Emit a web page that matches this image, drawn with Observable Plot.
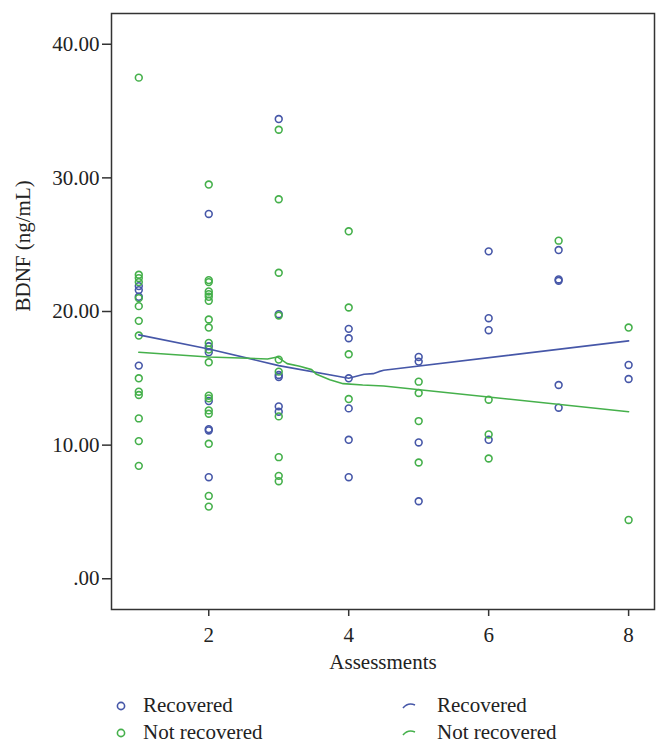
<!DOCTYPE html>
<html>
<head>
<meta charset="utf-8">
<script src="https://cdn.jsdelivr.net/npm/d3@7"></script>
<script src="https://cdn.jsdelivr.net/npm/@observablehq/plot@0.6"></script>
<style>
  html, body { margin: 0; padding: 0; background: #fff; }
  #wrap { position: relative; width: 669px; height: 754px; font-family: "Liberation Serif", "DejaVu Serif", serif; color: #222; }
  #legend { position: absolute; left: 0; top: 680px; width: 669px; height: 74px; font-size: 21px; }
  .item { position: absolute; display: flex; align-items: center; height: 24px; }
  .item svg { position: absolute; }
</style>
</head>
<body>
<div id="wrap">
  <div id="chart"></div>
  <div id="legend"></div>
</div>
<script>
// ---- data ----
const assessments = [1, 2, 3, 4, 5, 6, 7, 8];
const recoveredValues = [
  [21.9, 21.6, 21.1, 15.95],
  [27.3, 17.4, 16.95, 13.3, 11.2, 11.1, 7.6],
  [34.4, 19.8, 15.25, 15.1, 12.9, 12.5],
  [18.7, 18.0, 15.0, 12.75, 10.4, 7.6],
  [16.6, 16.25, 10.2, 5.8],
  [24.5, 19.5, 18.6, 10.4],
  [24.6, 22.4, 22.3, 14.5, 12.8],
  [16.0, 14.95]
];
const notRecoveredValues = [
  [37.5, 22.75, 22.5, 22.2, 21.0, 20.4, 19.3, 18.2, 15.0, 14.0, 13.75, 12.0, 10.3, 8.45],
  [29.5, 22.35, 22.2, 21.5, 21.3, 21.1, 20.8, 19.4, 18.8, 17.65, 17.15, 16.2, 13.7, 13.5, 12.6, 12.35, 10.1, 6.2, 5.4],
  [33.6, 28.4, 22.9, 19.7, 16.4, 15.5, 12.15, 9.1, 7.7, 7.3],
  [26.0, 20.3, 16.8, 13.45],
  [14.75, 13.9, 11.8, 8.7],
  [13.4, 10.8, 9.0],
  [25.3],
  [18.8, 4.4]
];
const recoveredFitX = [1, 2, 3, 4, 4.22, 4.35, 4.43, 4.5, 8];
const recoveredFitY = [18.25, 17.2, 15.95, 15.0, 15.3, 15.35, 15.5, 15.6, 17.8];
const notRecoveredFitX = [1, 2, 2.84, 2.98, 3.12, 3.3, 3.47, 3.54, 3.73, 3.92, 4.2, 4.5, 8];
const notRecoveredFitY = [16.95, 16.6, 16.45, 16.6, 16.1, 15.9, 15.65, 15.3, 14.9, 14.6, 14.5, 14.43, 12.5];

const groups = ["Recovered", "Not recovered"];
const groupColors = ["#4657a8", "#45b04b"];
const xTicks = [2, 4, 6, 8];
const yTicks = [0, 10, 20, 30, 40];
const yTickLabels = [".00", "10.00", "20.00", "30.00", "40.00"];
const xTitle = "Assessments";
const yTitle = "BDNF (ng/mL)";

// ---- build tables ----
const points = [];
assessments.forEach((a, i) => {
  recoveredValues[i].forEach(v => points.push({assessment: a, bdnf: v, group: groups[0]}));
  notRecoveredValues[i].forEach(v => points.push({assessment: a, bdnf: v, group: groups[1]}));
});
const recFit = recoveredFitX.map((x, i) => ({assessment: x, bdnf: recoveredFitY[i]}));
const notFit = notRecoveredFitX.map((x, i) => ({assessment: x, bdnf: notRecoveredFitY[i]}));
const yFmt = v => yTickLabels[yTicks.indexOf(v)];

const FS = 21;
const chart = Plot.plot({
  width: 669,
  height: 680,
  marginLeft: 111,
  marginRight: 15,
  marginTop: 13,
  marginBottom: 71,
  style: {fontFamily: "Liberation Serif, DejaVu Serif, serif", fontSize: FS + "px", color: "#222", background: "#fff"},
  x: {domain: [0.61, 8.37]},
  y: {domain: [-2.3, 42.3]},
  color: {domain: groups, range: groupColors},
  marks: [
    Plot.axisY({ticks: yTicks, tickFormat: yFmt, tickSize: 9, tickPadding: 3, label: null, fontSize: FS, stroke: "#333", strokeWidth: 1.5}),
    Plot.axisX({ticks: xTicks, tickSize: 7, tickPadding: 11, label: null, fontSize: FS, stroke: "#333", strokeWidth: 1.5}),
    Plot.dot(points, {x: "assessment", y: "bdnf", stroke: "group", r: 3.4, strokeWidth: 1.6, fill: "none"}),
    Plot.line(recFit, {x: "assessment", y: "bdnf", stroke: groupColors[0], strokeWidth: 1.6}),
    Plot.line(notFit, {x: "assessment", y: "bdnf", stroke: groupColors[1], strokeWidth: 1.6}),
    Plot.frame({stroke: "#333", strokeWidth: 1.5}),
    Plot.text([xTitle], {frameAnchor: "bottom", dy: 59, fontSize: FS, fill: "#222"}),
    Plot.text([yTitle], {frameAnchor: "left", dx: -88, rotate: -90, fontSize: FS, fill: "#222"})
  ]
});
document.getElementById("chart").appendChild(chart);

// ---- legend ----
const legend = document.getElementById("legend");
const legendItems = [
  {label: groups[0], color: groupColors[0], kind: "dot", left: 112, top: 13},
  {label: groups[1], color: groupColors[1], kind: "dot", left: 112, top: 40},
  {label: groups[0], color: groupColors[0], kind: "line", left: 400, top: 13},
  {label: groups[1], color: groupColors[1], kind: "line", left: 400, top: 40}
];
legendItems.forEach(it => {
  const div = document.createElement("div");
  div.className = "item";
  div.style.left = it.left + "px";
  div.style.top = it.top + "px";
  const sym = it.kind === "dot"
    ? `<svg width="20" height="24" style="left:0;top:0"><circle cx="9" cy="13" r="3.6" fill="none" stroke="${it.color}" stroke-width="1.6"/></svg>`
    : `<svg width="20" height="24" style="left:0;top:0"><path d="M3,15 Q8,9 15,12" fill="none" stroke="${it.color}" stroke-width="1.6"/></svg>`;
  div.innerHTML = sym + `<span style="position:absolute;left:${it.kind === "dot" ? 31 : 37}px;top:0;white-space:nowrap;line-height:24px">${it.label}</span>`;
  legend.appendChild(div);
});
</script>
</body>
</html>
